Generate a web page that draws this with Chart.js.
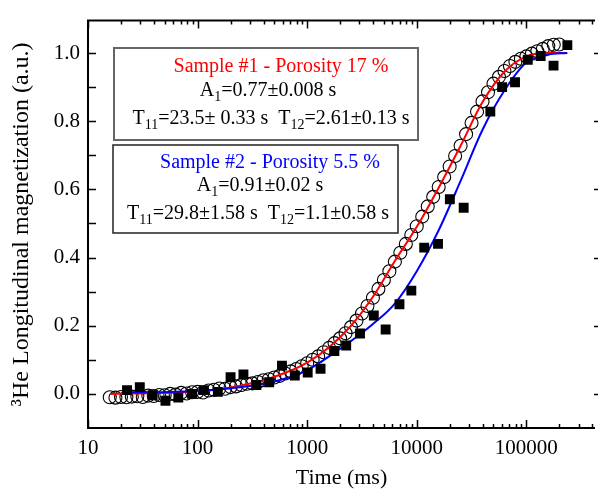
<!DOCTYPE html>
<html>
<head>
<meta charset="utf-8">
<script src="https://cdn.jsdelivr.net/npm/chart.js@4.4.1/dist/chart.umd.min.js"></script>
<style>
	html, body { margin: 0; padding: 0; background: #fff; }
	#wrap { width: 603px; height: 497px; }
</style>
</head>
<body>
<div id="wrap"><canvas id="myChart" width="603" height="497"></canvas></div>
<script>
// sample #1 (open circles), time in ms
var circleTimes = [15.8, 17.8, 20, 22.4, 25.1, 28.2, 31.6, 35.5, 39.8, 44.7,
	50.1, 56.2, 63.1, 70.8, 79.4, 89.1, 100, 112, 126, 141,
	158, 178, 200, 224, 251, 282, 316, 355, 398, 447,
	501, 562, 631, 708, 794, 891, 1000, 1122, 1259, 1413,
	1585, 1778, 1995, 2239, 2512, 2818, 3162, 3548, 3981, 4467,
	5012, 5623, 6310, 7079, 7943, 8913, 10000, 11220, 12589, 14125,
	15849, 17783, 19953, 22387, 25119, 28184, 31623, 35481, 39811, 44668,
	50119, 56234, 63096, 70795, 79433, 89125, 100000, 112202, 125893, 141254,
	158489, 177828, 199526];
var circleValues = [-0.01, -0.011, -0.009, -0.01, -0.008, -0.007, -0.009, -0.005, -0.006, -0.003,
	-0.004, 0.0, -0.002, 0.003, 0.001, 0.005, 0.006, 0.004, 0.01, 0.012,
	0.016, 0.015, 0.02, 0.022, 0.026, 0.03, 0.031, 0.035, 0.04, 0.043,
	0.048, 0.053, 0.06, 0.066, 0.073, 0.081, 0.09, 0.1, 0.11, 0.122,
	0.135, 0.149, 0.163, 0.178, 0.196, 0.215, 0.236, 0.258, 0.282, 0.308,
	0.334, 0.36, 0.388, 0.414, 0.44, 0.466, 0.492, 0.52, 0.55, 0.578,
	0.607, 0.636, 0.667, 0.698, 0.728, 0.762, 0.795, 0.828, 0.858, 0.885,
	0.91, 0.93, 0.947, 0.962, 0.974, 0.983, 0.99, 0.998, 1.005, 1.012,
	1.02, 1.024, 1.025];

// sample #2 (filled squares)
var squareTimes = [22.7, 29.7, 38.9, 50.9, 66.7, 89, 114, 153, 200, 262,
	344, 450, 589, 771, 1011, 1324, 1770, 2270, 3034, 4055,
	5200, 6950, 8920, 11690, 15630, 20040, 26790, 46900, 60100, 78800,
	103000, 135000, 177000, 236600];
var squareValues = [0.011, 0.02, -0.004, -0.02, -0.011, 0.0, 0.011, 0.006, 0.049, 0.057,
	0.026, 0.034, 0.083, 0.054, 0.063, 0.074, 0.126, 0.142, 0.177, 0.23,
	0.189, 0.263, 0.303, 0.429, 0.44, 0.571, 0.546, 0.828, 0.9, 0.914,
	0.98, 0.991, 0.963, 1.023];

// fit curves
var fit1Times = [16, 25, 40, 63, 100, 158, 251, 398, 631, 1000, 1585, 2512, 3981, 6310,
	10000, 15849, 25119, 39811, 63096, 100000, 158489, 236000];
var fit1Values = [0.0, 0.001, 0.002, 0.004, 0.008, 0.014, 0.025, 0.04, 0.062, 0.092, 0.137, 0.2, 0.285, 0.39,
	0.49, 0.605, 0.728, 0.856, 0.945, 0.99, 1.0, 1.0];
var fit2Times = [23, 40, 63, 100, 158, 251, 398, 631, 1000, 1585, 2512, 3981, 6310,
	10000, 15849, 25119, 39811, 63096, 100000, 158489, 236000];
var fit2Values = [0.004, 0.005, 0.006, 0.009, 0.013, 0.02, 0.03, 0.045, 0.07, 0.11, 0.155, 0.205, 0.265,
	0.36, 0.48, 0.625, 0.775, 0.89, 0.972, 0.995, 1.0];

var xTickLabels = [10, 100, 1000, 10000, 100000];
var yTickLabels = [0.0, 0.2, 0.4, 0.6, 0.8, 1.0];

!(function(){
	'use strict';
	var serif = '"Liberation Serif", "Times New Roman", serif';

	function pairs(xs, ys){
		var out = [];
		for (var i = 0; i < xs.length; i++) {
			out.push({ x: xs[i], y: ys[i] });
		}
		return out;
	}

	function isIn(list, v){
		for (var i = 0; i < list.length; i++) {
			if (Math.abs(list[i] - v) < 1e-6 * Math.max(1, Math.abs(v))) return true;
		}
		return false;
	}

	// text with subscripts: parts = [[text, isSub], ...]
	function drawRich(ctx, parts, cx, cy, size, color){
		var subSize = Math.round(size * 0.68);
		var total = 0, i;
		for (i = 0; i < parts.length; i++) {
			ctx.font = (parts[i][1] ? subSize : size) + 'px ' + serif;
			parts[i].w = ctx.measureText(parts[i][0]).width;
			total += parts[i].w;
		}
		var x = cx - total / 2;
		ctx.fillStyle = color;
		ctx.textAlign = 'left';
		ctx.textBaseline = 'alphabetic';
		for (i = 0; i < parts.length; i++) {
			ctx.font = (parts[i][1] ? subSize : size) + 'px ' + serif;
			ctx.fillText(parts[i][0], x, cy + size * 0.33 + (parts[i][1] ? 5 : 0));
			x += parts[i].w;
		}
	}

	var framePlugin = {
		id: 'frame',
		afterDraw: function(chart){
			var ctx = chart.ctx, a = chart.chartArea;
			var xs = chart.scales.x, ys = chart.scales.y;
			ctx.save();
			ctx.strokeStyle = '#000';
			ctx.lineWidth = 2;
			ctx.beginPath();
			ctx.moveTo(a.right, a.top); ctx.lineTo(a.left, a.top);
			ctx.lineTo(a.left, a.bottom); ctx.lineTo(a.right, a.bottom);
			ctx.stroke();

			// inward ticks, x (bottom and top)
			ctx.lineWidth = 1.5;
			ctx.beginPath();
			for (var d = 1; d <= 5; d++) {
				for (var m = 1; m <= 9; m++) {
					var v = m * Math.pow(10, d);
					if (v > xs.max) break;
					var px = Math.round(xs.getPixelForValue(v)) + 0.5;
					var len = m === 1 ? 8 : 4;
					ctx.moveTo(px, a.bottom); ctx.lineTo(px, a.bottom - len);
					ctx.moveTo(px, a.top); ctx.lineTo(px, a.top + len);
				}
			}
			// y ticks
			for (var k = 0; k <= 10; k++) {
				var py = Math.round(ys.getPixelForValue(k / 10)) + 0.5;
				ctx.moveTo(a.left, py); ctx.lineTo(a.left + 8, py);
				if (k % 2 === 0) {
					ctx.moveTo(a.right - 1, py); ctx.lineTo(a.right + 3, py);
				}
			}
			ctx.stroke();

			// axis titles
			ctx.fillStyle = '#000';
			ctx.font = '22px ' + serif;
			ctx.textAlign = 'center';
			ctx.textBaseline = 'middle';
			ctx.fillText('Time (ms)', (a.left + a.right) / 2, 478);
			ctx.save();
			ctx.translate(22, (a.top + a.bottom) / 2);
			ctx.rotate(-Math.PI / 2);
			ctx.font = '24px ' + serif;
			ctx.fillText('\u00B3He Longitudinal magnetization (a.u.)', 0, 0);
			ctx.restore();

			// annotation boxes
			ctx.fillStyle = '#fff';
			ctx.fillRect(114, 48, 304, 92);
			ctx.strokeStyle = '#666';
			ctx.lineWidth = 2;
			ctx.strokeRect(114, 48, 304, 92);
			ctx.fillStyle = '#fff';
			ctx.fillRect(113, 145, 285, 88);
			ctx.strokeStyle = '#222';
			ctx.lineWidth = 1.5;
			ctx.strokeRect(113, 145, 285, 88);

			drawRich(ctx, [['Sample #1 - Porosity 17 %']], 281, 65, 20, '#ff0000');
			drawRich(ctx, [['A'], ['1', true], ['=0.77\u00B10.008 s']], 268, 89, 20, '#000');
			drawRich(ctx, [['T'], ['11', true], ['=23.5\u00B1 0.33 s  T'], ['12', true], ['=2.61\u00B10.13 s']], 271, 117, 20, '#000');
			drawRich(ctx, [['Sample #2 - Porosity 5.5 %']], 270, 161, 20, '#0000ff');
			drawRich(ctx, [['A'], ['1', true], ['=0.91\u00B10.02 s']], 260, 184, 20, '#000');
			drawRich(ctx, [['T'], ['11', true], ['=29.8\u00B11.58 s  T'], ['12', true], ['=1.1\u00B10.58 s']], 258, 212, 20, '#000');
			ctx.restore();
		}
	};

	var ctx = document.getElementById('myChart').getContext('2d');
	var myChart = new Chart(ctx, {
		type: 'scatter',
		data: {
			datasets: [{
				label: 'Sample #1',
				data: pairs(circleTimes, circleValues),
				pointStyle: 'circle',
				pointRadius: 6.5,
				borderWidth: 1.1,
				borderColor: '#000',
				backgroundColor: 'rgba(0,0,0,0)',
				order: 4
			}, {
				label: 'Fit #1',
				data: pairs(fit1Times, fit1Values),
				showLine: true,
				pointRadius: 0,
				borderColor: '#ff0000',
				borderWidth: 2,
				cubicInterpolationMode: 'monotone',
				order: 3
			}, {
				label: 'Fit #2',
				data: pairs(fit2Times, fit2Values),
				showLine: true,
				pointRadius: 0,
				borderColor: '#0000ff',
				borderWidth: 2,
				cubicInterpolationMode: 'monotone',
				order: 2
			}, {
				label: 'Sample #2',
				data: pairs(squareTimes, squareValues),
				pointStyle: 'rect',
				pointRadius: 7,
				borderWidth: 0,
				borderColor: '#000',
				backgroundColor: '#000',
				order: 1
			}]
		},
		options: {
			responsive: false,
			animation: false,
			events: [],
			layout: { padding: { top: 9, right: 2, left: 0, bottom: 0 } },
			plugins: {
				legend: { display: false },
				tooltip: { enabled: false }
			},
			scales: {
				x: {
					type: 'logarithmic',
					min: 10,
					max: 423000,
					grid: { display: false, drawTicks: false },
					border: { display: false },
					ticks: {
						autoSkip: false,
						maxRotation: 0,
						padding: 8,
						color: '#000',
						font: { family: serif, size: 21 },
						callback: function(v){ return isIn(xTickLabels, v) ? String(v) : ''; }
					},
					afterFit: function(s){ s.height = 69; }
				},
				y: {
					min: -0.1,
					max: 1.095,
					grid: { display: false, drawTicks: false },
					border: { display: false },
					ticks: {
						stepSize: 0.1,
						autoSkip: false,
						padding: 8,
						color: '#000',
						font: { family: serif, size: 21 },
						callback: function(v){ return isIn(yTickLabels, v) ? v.toFixed(1) : ''; }
					},
					afterFit: function(s){ s.width = 88; }
				}
			}
		},
		plugins: [framePlugin]
	});
})();
</script>
</body>
</html>
